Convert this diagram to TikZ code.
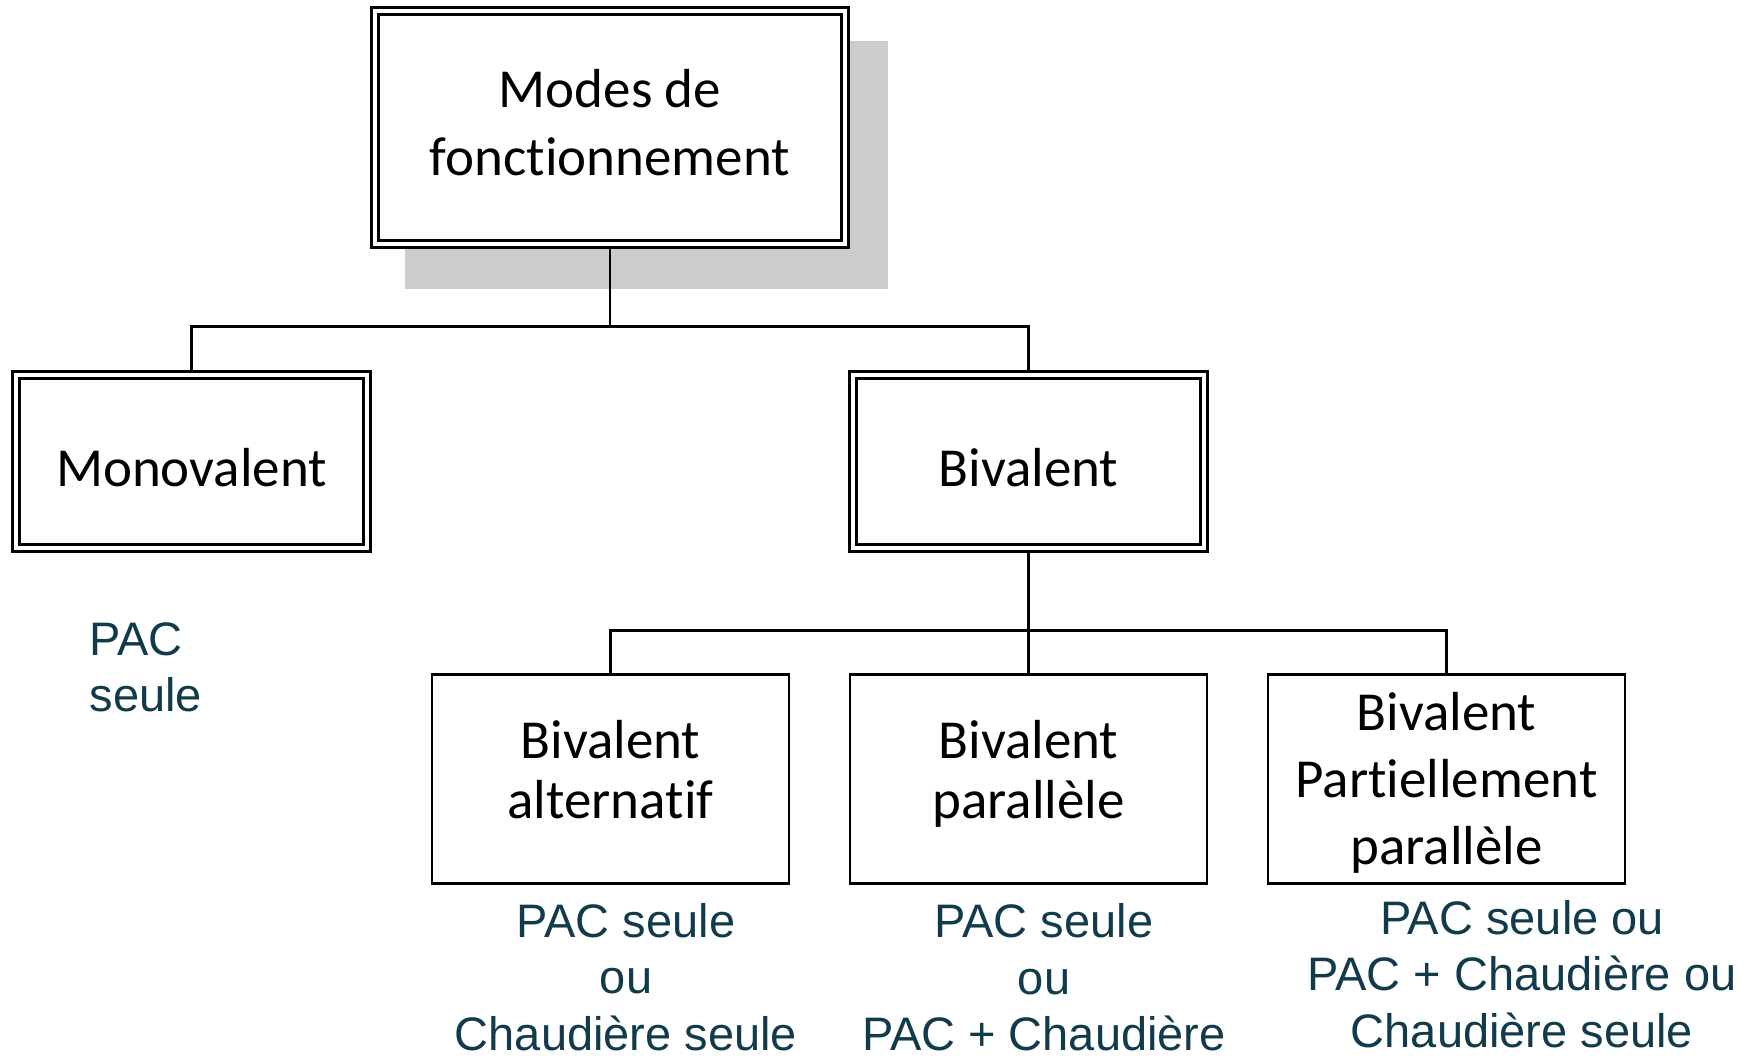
\documentclass[tikz,border=0pt]{standalone}
\usepackage{fontspec}
\setmainfont{Carlito}[Ligatures=NoCommon]
\newfontfamily\notefamily{Liberation Sans}
\usetikzlibrary{backgrounds}
\definecolor{modesInk}{HTML}{000000}
\definecolor{modesTeal}{HTML}{113B4A}
\definecolor{modesShadow}{HTML}{CCCCCC}

\begin{document}
\begin{tikzpicture}[
        x=1pt,
        y=-1pt,
        boxtext/.style={font=\fontsize{55}{67}\selectfont, text=modesInk, align=center},
        dblock/.style={boxtext, rectangle, draw=modesInk, double=white,
                       double distance=4.5pt, line width=3pt, fill=white, inner sep=0pt},
        topblock/.style={dblock, minimum width=470pt, minimum height=233pt,
                         font=\fontsize{55}{68}\selectfont, text depth=9.5pt},
        midblock/.style={dblock, minimum width=351pt, minimum height=173pt,
                         text height=49pt, text depth=0pt},
        leaf/.style={boxtext, rectangle, draw=modesInk, line width=2.6pt, fill=white,
                     inner sep=0pt, minimum width=357pt, minimum height=209pt},
        shortleaf/.style={leaf, font=\fontsize{55}{60}\selectfont, text depth=20pt},
        link/.style={draw=modesInk, line width=2.6pt},
        note/.style={font=\notefamily\fontsize{47}{56.5}\selectfont, text=modesTeal,
                     align=center, inner sep=0pt}
    ]
    \useasboundingbox (0,0) rectangle (1752,1058);

    % Hierarchy
    \node[topblock] (mode) at (610, 127.5) {Modes de\\fonctionnement};
    \node[midblock] (mono) at (191.5, 461.5) {Monovalent};
    \node[midblock] (biv)  at (1028.5, 461.5) {Bivalent};

    \node[shortleaf] (alt)  at (610.5, 779)  {Bivalent\\alternatif};
    \node[shortleaf] (par)  at (1028.5, 779) {Bivalent\\parallèle};
    \node[leaf, text depth=2pt] (part) at (1446.5, 779) {Bivalent\\Partiellement\\parallèle};

    % What runs in each mode
    \node[note, align=left, anchor=west] (monoNote) at (89.5, 667.3) {PAC\\seule};
    \node[note] (altNote)  at (626, 977)    {PAC seule\\ou\\Chaudière seule};
    \node[note] (parNote)  at (1044, 977.5) {PAC seule\\ou\\PAC + Chaudière};
    \node[note] (partNote) at (1522, 974)   {PAC seule ou\\PAC + Chaudière ou\\Chaudière seule};

    % Shadow and tree lines behind the boxes
    \begin{scope}[on background layer]
        \fill[modesShadow] ([shift={(31,31)}]mode.north west) rectangle ([shift={(41,43)}]mode.south east);
        \draw[link] (mode.south) -- ++(0,81) coordinate (forkTop);
        \draw[link] (mono.north) |- (forkTop) -| (biv.north);
        \draw[link] (biv.south) -- ++(0,81) coordinate (forkBiv);
        \draw[link] (alt.north) |- (forkBiv) -| (part.north);
        \draw[link] (forkBiv) -- (par.north);
    \end{scope}

\end{tikzpicture}
\end{document}
